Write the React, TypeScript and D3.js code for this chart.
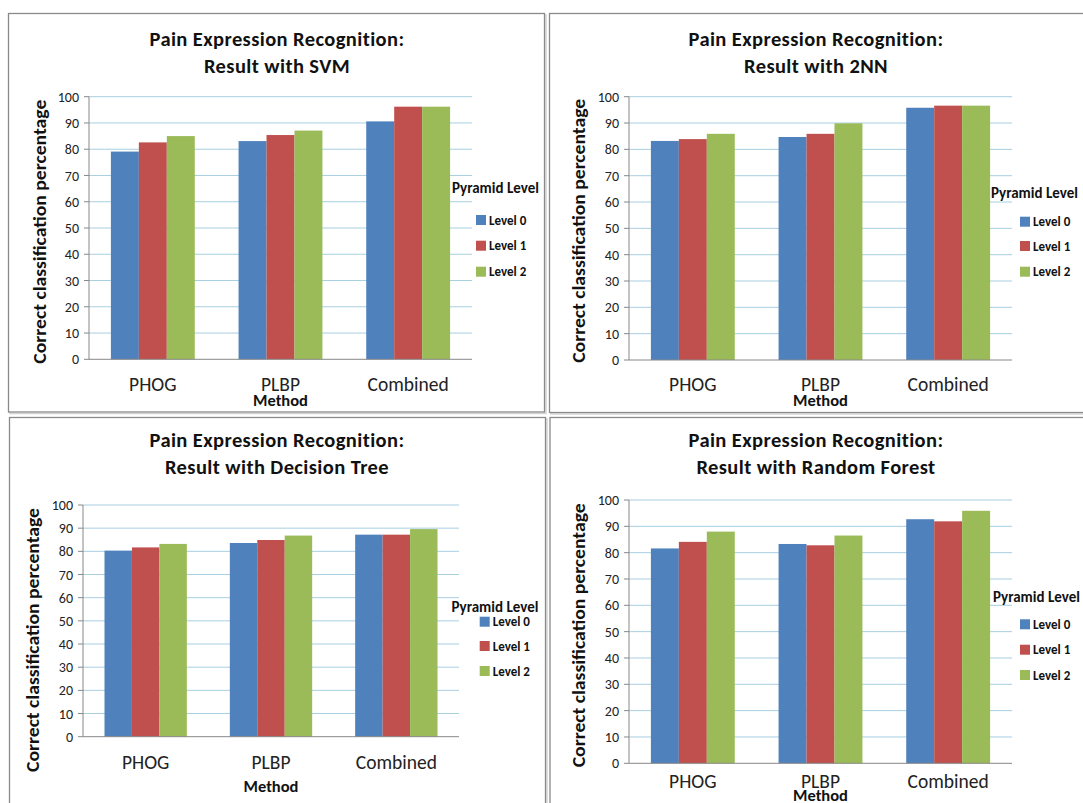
import React from "react";
import * as d3 from "d3";

const methods = ["PHOG", "PLBP", "Combined"];
const levels = ["Level 0", "Level 1", "Level 2"];
const levelColors = ["#4F81BD", "#C0504D", "#9BBB59"];
const yTicks = [0, 10, 20, 30, 40, 50, 60, 70, 80, 90, 100];

const chartHeading = "Pain Expression Recognition:";
const yAxisTitle = "Correct classification percentage";
const xAxisTitle = "Method";
const legendTitle = "Pyramid Level";

// values per pyramid level, each listing PHOG, PLBP, Combined
const svmValues = [
  [79.1, 83.1, 90.6],
  [82.6, 85.4, 96.2],
  [85.0, 87.1, 96.2],
];
const nnValues = [
  [83.2, 84.7, 95.8],
  [83.9, 85.9, 96.6],
  [85.9, 89.9, 96.6],
];
const treeValues = [
  [80.3, 83.6, 87.2],
  [81.7, 84.9, 87.2],
  [83.2, 86.8, 89.6],
];
const forestValues = [
  [81.6, 83.3, 92.7],
  [84.1, 82.8, 91.9],
  [88.0, 86.5, 95.9],
];

const FONT = "Carlito, Lato, 'Open Sans', sans-serif";

const panels = [
  {
    subtitle: "Result with SVM",
    values: svmValues,
    box: { x: 8.5, y: 13.5, w: 536, h: 398.5 },
    plot: { x0: 89, x1: 472, yTop: 96.7, yBottom: 359.3 },
    titleX: 277, titleY: [46, 73],
    yTitle: { x: 40, y: 231.7 },
    catY: 391, methodY: 405.5,
    legend: { titleX: 452, titleY: 193, sqX: 476, rowsY: [220, 245.7, 271.7] },
  },
  {
    subtitle: "Result with 2NN",
    values: nnValues,
    box: { x: 549.5, y: 13.5, w: 600, h: 399 },
    plot: { x0: 629, x1: 1012, yTop: 96.7, yBottom: 360 },
    titleX: 816, titleY: [46, 73],
    yTitle: { x: 579, y: 230.8 },
    catY: 391, methodY: 406,
    legend: { titleX: 991, titleY: 198, sqX: 1020, rowsY: [221.7, 246, 271.7] },
  },
  {
    subtitle: "Result with Decision Tree",
    values: treeValues,
    box: { x: 9.5, y: 417.5, w: 536, h: 420 },
    plot: { x0: 83, x1: 459, yTop: 505, yBottom: 736.7 },
    titleX: 277, titleY: [447, 474],
    yTitle: { x: 33, y: 640 },
    catY: 769, methodY: 792,
    legend: { titleX: 451.5, titleY: 612, sqX: 479.7, rowsY: [621.7, 646, 671] },
  },
  {
    subtitle: "Result with Random Forest",
    values: forestValues,
    box: { x: 550, y: 417.5, w: 600, h: 420 },
    plot: { x0: 629, x1: 1012, yTop: 500, yBottom: 763.3 },
    titleX: 816, titleY: [447, 474],
    yTitle: { x: 579, y: 635.3 },
    catY: 788, methodY: 801,
    legend: { titleX: 993, titleY: 602, sqX: 1020, rowsY: [624.3, 649.7, 675] },
  },
];

function Panel({ p, idx }: { p: (typeof panels)[number]; idx: number }) {
  const { plot } = p;
  const x = d3.scaleBand<string>().domain(methods).range([plot.x0, plot.x1]).paddingInner(0.343).paddingOuter(0.1715);
  const xs = d3.scaleBand<string>().domain(levels).range([0, x.bandwidth()]);
  const y = d3.scaleLinear().domain([0, 100]).range([plot.yBottom, plot.yTop]);
  const clipId = `clip-${idx}`;
  return (
    <g>
      <defs>
        <clipPath id={clipId}>
          <rect x={p.box.x} y={p.box.y} width={p.box.w} height={p.box.h} />
        </clipPath>
      </defs>
      <rect x={p.box.x + 1.5} y={p.box.y + 1.5} width={p.box.w} height={p.box.h} fill="none" stroke="#d4d4d4" strokeWidth={1.5} />
      <rect x={p.box.x} y={p.box.y} width={p.box.w} height={p.box.h} fill="#fff" stroke="#8a8a8a" strokeWidth={1.3} />
      <g clipPath={`url(#${clipId})`} fontFamily={FONT}>
        <text x={p.titleX} y={p.titleY[0]} textAnchor="middle" fontSize={20.5} fontWeight="bold" letterSpacing={0.4} fill="#111">{chartHeading}</text>
        <text x={p.titleX} y={p.titleY[1]} textAnchor="middle" fontSize={20.5} fontWeight="bold" letterSpacing={0.4} fill="#111">{p.subtitle}</text>
        {yTicks.filter((t) => t > 0).map((t) => (
          <line key={`g${t}`} x1={plot.x0} x2={plot.x1} y1={y(t)} y2={y(t)} stroke="#a8cfe2" strokeWidth={1} />
        ))}
        {yTicks.map((t) => (
          <g key={`t${t}`}>
            <line x1={plot.x0 - 5} x2={plot.x0} y1={y(t)} y2={y(t)} stroke="#888" strokeWidth={1} />
            <text x={plot.x0 - 10} y={y(t)} dy="0.36em" textAnchor="end" fontSize={14} fill="#222">{t}</text>
          </g>
        ))}
        {levels.map((lv, li) =>
          methods.map((m, mi) => {
            const v = p.values[li][mi];
            return (
              <rect key={`${lv}-${m}`} x={(x(m) as number) + (xs(lv) as number)} y={y(v)} width={xs.bandwidth()} height={y(0) - y(v)} fill={levelColors[li]} />
            );
          })
        )}
        <line x1={plot.x0} x2={plot.x0} y1={plot.yTop} y2={plot.yBottom} stroke="#888" strokeWidth={1} />
        <line x1={plot.x0} x2={plot.x1} y1={plot.yBottom} y2={plot.yBottom} stroke="#888" strokeWidth={1} />
        {methods.map((m) => (
          <text key={m} x={(x(m) as number) + x.bandwidth() / 2} y={p.catY} textAnchor="middle" fontSize={19.5} fill="#222">{m}</text>
        ))}
        <text x={(plot.x0 + plot.x1) / 2} y={p.methodY} textAnchor="middle" fontSize={16.5} fontWeight="bold" fill="#111">{xAxisTitle}</text>
        <text transform={`translate(${p.yTitle.x},${p.yTitle.y}) rotate(-90)`} textAnchor="middle" dy="0.35em" fontSize={17.5} fontWeight="bold" fill="#111" textLength={264} lengthAdjust="spacingAndGlyphs">{yAxisTitle}</text>
        <text x={p.legend.titleX} y={p.legend.titleY} fontSize={15} fontWeight="bold" fill="#111">{legendTitle}</text>
        {levels.map((lv, li) => (
          <g key={lv}>
            <rect x={p.legend.sqX} y={p.legend.rowsY[li] - 5} width={10} height={10} fill={levelColors[li]} />
            <text x={p.legend.sqX + 13} y={p.legend.rowsY[li]} dy="0.36em" fontSize={13} fontWeight="bold" fill="#111">{lv}</text>
          </g>
        ))}
      </g>
    </g>
  );
}

export default function App() {
  return (
    <svg width={1083} height={803} style={{ position: "absolute", left: 0, top: 0, background: "#fff" }}>
      <rect x={0} y={0} width={1083} height={803} fill="#fff" />
      {panels.map((p, i) => (
        <Panel key={i} p={p} idx={i} />
      ))}
    </svg>
  );
}
